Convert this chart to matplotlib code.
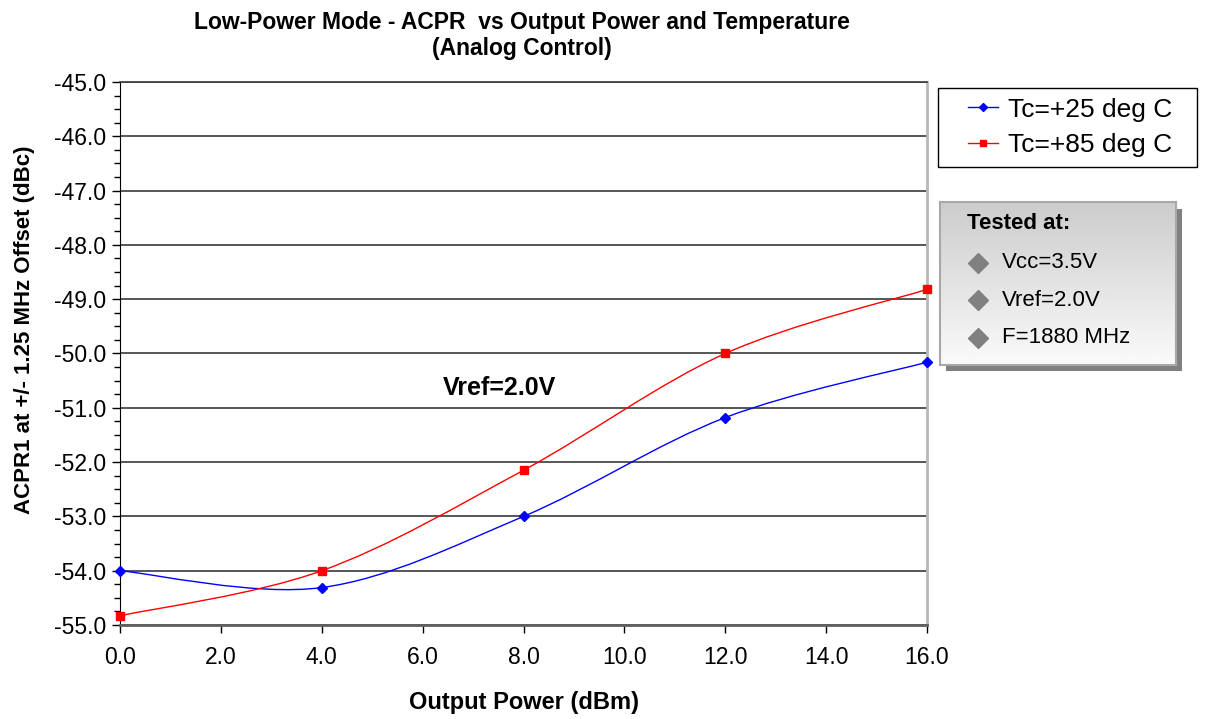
import numpy as np
from matplotlib import pyplot as plt
from matplotlib.path import Path
from matplotlib.patches import PathPatch, Rectangle
from matplotlib.lines import Line2D

plt.rcParams['font.family'] = ['Liberation Sans', 'DejaVu Sans']

# data
pout = [0.0, 4.0, 8.0, 12.0, 16.0]
acpr_25 = [-54.0, -54.31, -53.0, -51.18, -50.16]
acpr_85 = [-54.83, -54.0, -52.15, -50.0, -48.82]

title = 'Low-Power Mode - ACPR  vs Output Power and Temperature\n(Analog Control)'
series_labels = ['Tc=+25 deg C', 'Tc=+85 deg C']
conditions = ['Vcc=3.5V', 'Vref=2.0V', 'F=1880 MHz']


def smooth_path(x, y):
    # Excel style smoothed line: cubic bezier through every point
    p = np.column_stack([x, y])
    n = len(p)
    verts = [p[0]]
    codes = [Path.MOVETO]
    for i in range(n - 1):
        prev = p[i - 1] if i > 0 else p[i]
        nxt = p[i + 2] if i + 2 < n else p[i + 1]
        c1 = p[i] + (p[i + 1] - prev) / 6.0
        c2 = p[i + 1] - (nxt - p[i]) / 6.0
        verts += [c1, c2, p[i + 1]]
        codes += [Path.CURVE4] * 3
    return Path(verts, codes)


fig = plt.figure(figsize=(12.05, 7.19), dpi=100)
ax = fig.add_axes([0.0996, 0.1307, 0.6697, 0.7553])

for ys, col, mk, ms in [(acpr_25, '#0000ff', 'D', 5), (acpr_85, '#ff0000', 's', 6)]:
    ax.add_patch(PathPatch(smooth_path(pout, ys), fc='none', ec=col, lw=1.0, zorder=3))
    ax.plot(pout, ys, ls='none', marker=mk, ms=ms, color=col, zorder=4, clip_on=False)

ax.set_xlim(0, 16)
ax.set_ylim(-55, -45)
ax.set_xticks(np.arange(0, 17, 2))
ax.set_xticklabels([f'{v:.1f}' for v in np.arange(0, 17, 2)])
ax.set_yticks(np.arange(-55, -44, 1))
ax.set_yticklabels([f'{v:.1f}' for v in np.arange(-55, -44, 1)])
ax.set_yticks(np.arange(-55, -44.9, 0.25), minor=True)
ax.tick_params(axis='both', labelsize=16.5, direction='out', length=6, width=1, color='black')
ax.tick_params(axis='y', which='minor', direction='out', length=4, width=1)
ax.tick_params(axis='x', pad=9)
ax.tick_params(axis='y', pad=4)
ax.grid(axis='y', which='major', color='#3a3a3a', lw=1.2, zorder=1)
ax.set_axisbelow(True)

ax.spines['top'].set_color('#3a3a3a')
ax.spines['top'].set_linewidth(1.2)
ax.spines['left'].set_color('black')
ax.spines['bottom'].set_color('#606060')
ax.spines['bottom'].set_linewidth(2)
ax.spines['right'].set_color('#b8b8b8')
ax.spines['right'].set_linewidth(2)

ax.set_xlabel('Output Power (dBm)', fontsize=17, fontweight='bold', labelpad=16)
ax.set_ylabel('ACPR1 at +/- 1.25 MHz Offset (dBc)', fontsize=16, fontweight='bold')
ax.yaxis.set_label_coords(-0.105, 0.543)
fig.text(0.433, 0.985, title, ha='center', va='top', fontsize=16.5, fontweight='bold',
         linespacing=1.2)

ax.text(6.4, -50.64, 'Vref=2.0V', fontsize=18, fontweight='bold', va='center')

# legend: plain frame drawn by hand, legend entries inside it
fig.patches.append(Rectangle((0.7784, 0.7677), 0.215, 0.1099, transform=fig.transFigure,
                             fc='white', ec='black', lw=1.0, zorder=2))
handles = [Line2D([], [], color='#0000ff', marker='D', ms=4, lw=1.0),
           Line2D([], [], color='#ff0000', marker='s', ms=5, lw=1.0)]
leg = fig.legend(handles, series_labels, loc='center left',
                 bbox_to_anchor=(0.8033, 0.8227), fontsize=19, frameon=False,
                 handlelength=1.15, borderpad=0, labelspacing=0.45,
                 handletextpad=0.35, borderaxespad=0)
leg.set_zorder(3)

# "Tested at" box
bx, by, bw, bh = 0.780, 0.493, 0.196, 0.226
shadow = Rectangle((bx + 0.005, by - 0.009), bw, bh, transform=fig.transFigure,
                   fc='#808080', ec='none', zorder=0.5)
fig.patches.append(shadow)
bax = fig.add_axes([bx, by, bw, bh])
bax.set_zorder(1)
grad = np.linspace(0.80, 0.98, 100).reshape(-1, 1)
bax.imshow(grad, cmap='gray', vmin=0, vmax=1, aspect='auto', extent=[0, 1, 0, 1])
bax.set_xlim(0, 1)
bax.set_ylim(0, 1)
bax.set_xticks([])
bax.set_yticks([])
for s in bax.spines.values():
    s.set_color('#a8a8a8')
    s.set_linewidth(1.5)
bax.text(0.114, 0.87, 'Tested at:', fontsize=16, fontweight='bold',
         va='center', transform=bax.transAxes)
for i, c in enumerate(conditions):
    yy = 0.626 - i * 0.23
    bax.plot([0.16], [yy], marker='D', ms=10, color='#808080', transform=bax.transAxes)
    bax.text(0.263, yy, c, fontsize=16, va='center', transform=bax.transAxes)

fig.savefig('out.png', dpi=100)
